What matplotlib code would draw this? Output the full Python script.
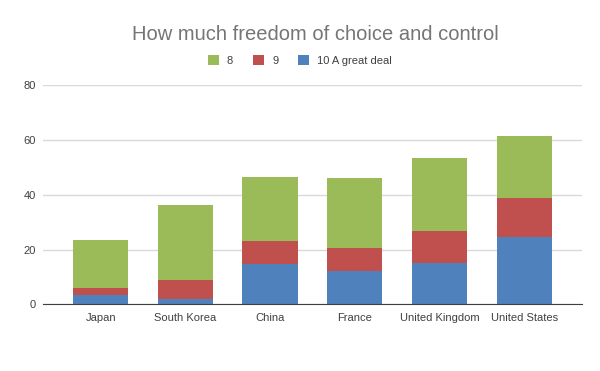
import numpy as np
import matplotlib.pyplot as plt

countries = ["Japan", "South Korea", "China", "France", "United Kingdom", "United States"]
great_deal = [3.4, 1.9, 14.9, 12.2, 15.1, 24.6]   # 10 A great deal
nine = [2.6, 7.0, 8.2, 8.4, 11.7, 14.4]
eight = [17.5, 27.4, 23.4, 25.6, 26.7, 22.5]

plt.rcParams['font.family'] = ['Liberation Sans', 'DejaVu Sans']

fig = plt.figure(figsize=(6, 3.71), dpi=100)
ax = fig.add_axes([0.0717, 0.1798, 0.8978, 0.5902])

x = np.arange(len(countries))
w = 0.65
blue, red, green = "#4f81bd", "#c0504d", "#9bbb59"

b1 = ax.bar(x, great_deal, w, color=blue, label="10 A great deal", zorder=3)
b2 = ax.bar(x, nine, w, bottom=great_deal, color=red, label="9", zorder=3)
bottom3 = np.array(great_deal) + np.array(nine)
b3 = ax.bar(x, eight, w, bottom=bottom3, color=green, label="8", zorder=3)

ax.set_ylim(0, 80)
ax.set_xlim(-0.68, 5.68)
ax.set_yticks([0, 20, 40, 60, 80])
ax.set_xticks(x)
ax.set_xticklabels(countries)
ax.tick_params(axis='both', length=0, labelsize=8, colors="#404040")
ax.tick_params(axis='x', pad=6)
ax.tick_params(axis='y', pad=5)
ax.grid(axis='y', color="#d9d9d9", linewidth=1, zorder=0)
for s in ["top", "right", "left"]:
    ax.spines[s].set_visible(False)
ax.spines["bottom"].set_color("#404040")
ax.spines["bottom"].set_zorder(4)

fig.text(0.525, 0.908, "How much freedom of choice and control", ha="center", va="center",
         fontsize=14.5, color="#757575")
fig.legend(handles=[b3, b2, b1], loc="center", bbox_to_anchor=(0.5, 0.836), ncol=3,
           frameon=False, fontsize=8, handlelength=1.0, handleheight=1.0,
           columnspacing=1.8, handletextpad=0.7, labelcolor="#404040")

fig.savefig("out.png", dpi=100)
